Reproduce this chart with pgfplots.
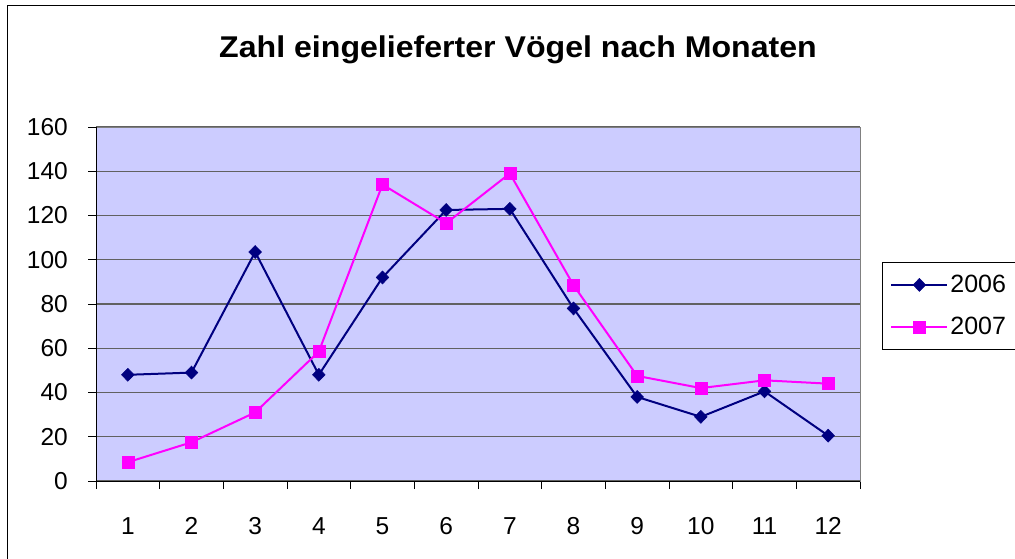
\documentclass[border=0pt]{standalone}
\usepackage{pgfplots}
\pgfplotsset{compat=1.18}
\usepackage{fontspec}
\setmainfont{Liberation Sans}
\definecolor{plotbg}{HTML}{CCCCFF}
\definecolor{navyline}{HTML}{000080}
\definecolor{magline}{HTML}{FF00FF}
\begin{document}
\begin{tikzpicture}[x=1pt,y=1pt]
  \useasboundingbox (0,0) rectangle (1015,558);
  % chart area border (cut by the page on the right and bottom)
  \draw[black, line width=1pt] (7.5,-10) -- (7.5,552.5) -- (1030,552.5);
  \node[anchor=base, xscale=1.07, font=\fontsize{30}{34}\selectfont\bfseries] at (518,500.5) {Zahl eingelieferter Vögel nach Monaten};
  \begin{axis}[
      at={(96pt,77pt)}, anchor=south west,
      scale only axis,
      width=764pt, height=354pt,
      xmin=0.5, xmax=12.5,
      ymin=0, ymax=160,
      xtick={1,...,12},
      minor xtick={0.5,1.5,...,12.5},
      ytick={0,20,...,160},
      tick pos=left,
      tick align=outside,
      major tick length=8pt,
      minor tick length=8pt,
      major x tick style={draw=none},
      minor x tick style={black, line width=1pt},
      major y tick style={black, line width=1pt},
      ymajorgrids=true,
      major grid style={black!62, line width=1.4pt},
      axis line style={draw=gray, line width=1pt},
      axis background/.style={fill=plotbg},
      /pgf/number format/assume math mode=true,
      ticklabel style={font=\fontsize{24.5}{28}\selectfont},
      xticklabel style={inner sep=0pt, anchor=base, yshift=-45.5pt},
      yticklabel style={inner sep=0pt, anchor=east, xshift=-20pt},
      clip=false,
      legend style={at={(rel axis cs:1.0288,0.6186)}, anchor=north west,
        draw=black, line width=0.8pt, fill=white,
        font=\fontsize{25}{29}\selectfont,
        inner xsep=8pt, inner ysep=11pt, row sep=19pt,
        legend cell align=left},
      legend image code/.code={\draw[mark repeat=2,mark phase=2] plot coordinates {(0pt,0pt) (28pt,0pt) (56pt,0pt)};},
    ]
    \addplot[navyline, line width=2pt, mark=diamond*, mark size=6.5pt,
      mark options={fill=navyline, line width=0.5pt, xscale=1.3}]
      coordinates {(1,48) (2,49) (3,103.5) (4,48) (5,92) (6,122.5) (7,123) (8,78) (9,38) (10,29) (11,40.5) (12,20.5)};
    \addlegendentry{2006}
    \addplot[magline, line width=2pt, mark=square*, mark size=6pt,
      mark options={fill=magline, line width=0.5pt}]
      coordinates {(1,8.5) (2,17.5) (3,31) (4,58.5) (5,134) (6,116.5) (7,139) (8,88.5) (9,47.5) (10,42) (11,45.5) (12,44)};
    \addlegendentry{2007}
    \draw[black, line width=1pt] (rel axis cs:0,1) -- (rel axis cs:0,0) -- (rel axis cs:1,0);
  \end{axis}
\end{tikzpicture}
\end{document}
